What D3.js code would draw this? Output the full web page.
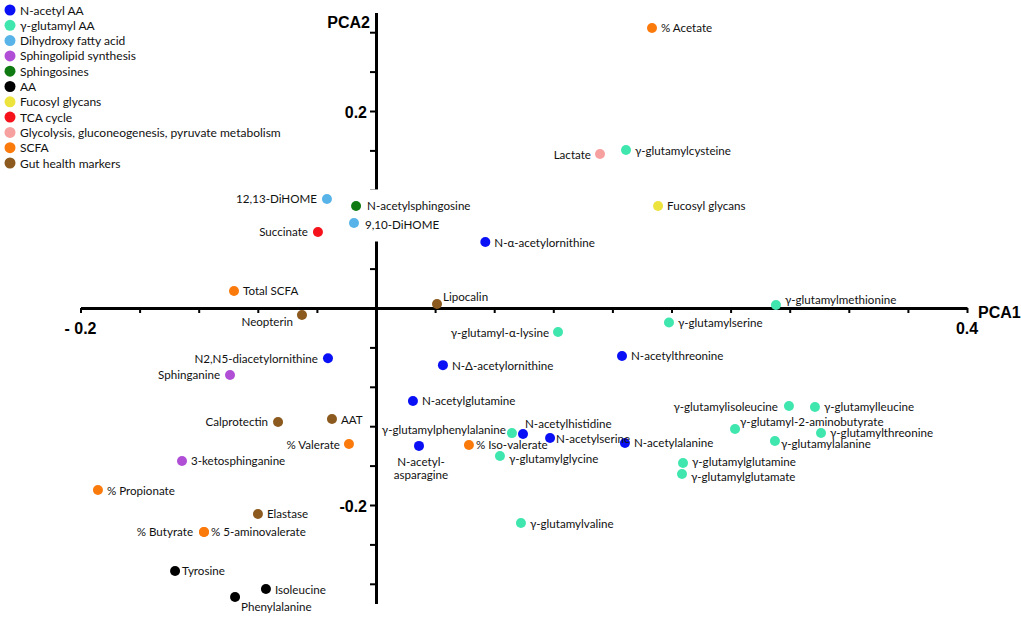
<!DOCTYPE html>
<html>
<head>
<meta charset="utf-8">
<script src="https://cdn.jsdelivr.net/npm/d3@7"></script>
<style>
  html, body { margin: 0; padding: 0; background: #fff; }
  svg { display: block; }
  .lbl { font-family: Lato, "Open Sans", sans-serif; font-size: 11.6px; fill: #111; }
  .leg { font-family: Lato, "Open Sans", sans-serif; font-size: 12px; fill: #111; }
  .ax { font-family: "Liberation Sans", Arial, sans-serif; font-weight: bold; font-size: 16px; fill: #000; }
</style>
</head>
<body>
<svg id="chart" width="1021" height="617"></svg>
<script>
// ---------------- DATA ----------------
const categories = [
  "N-acetyl AA", "γ-glutamyl AA", "Dihydroxy fatty acid", "Sphingolipid synthesis",
  "Sphingosines", "AA", "Fucosyl glycans", "TCA cycle",
  "Glycolysis, gluconeogenesis, pyruvate metabolism", "SCFA", "Gut health markers"
];

// [name, PCA1, PCA2]
const nAcetylAA = [
  ["N-α-acetylornithine", 0.074, 0.067],
  ["N2,N5-diacetylornithine", -0.0325, -0.051],
  ["N-Δ-acetylornithine", 0.0453, -0.058],
  ["N-acetylthreonine", 0.1665, -0.0487],
  ["N-acetylglutamine", 0.025, -0.0944],
  ["N-acetylhistidine", 0.0995, -0.128],
  ["N-acetylserine", 0.1178, -0.132],
  ["N-acetylalanine", 0.1685, -0.137],
  ["N-acetyl-asparagine", 0.0291, -0.140]
];
const gGlutamylAA = [
  ["γ-glutamylcysteine", 0.1692, 0.1604],
  ["γ-glutamylmethionine", 0.2707, 0.003],
  ["γ-glutamylserine", 0.1983, -0.0147],
  ["γ-glutamyl-α-lysine", 0.1232, -0.0244],
  ["γ-glutamylphenylalanine", 0.092, -0.127],
  ["γ-glutamylglycine", 0.0839, -0.1503],
  ["γ-glutamylvaline", 0.0981, -0.2183],
  ["γ-glutamylisoleucine", 0.2795, -0.0995],
  ["γ-glutamylleucine", 0.2971, -0.1005],
  ["γ-glutamyl-2-aminobutyrate", 0.243, -0.1228],
  ["γ-glutamylthreonine", 0.3012, -0.1269],
  ["γ-glutamylalanine", 0.270, -0.135],
  ["γ-glutamylglutamine", 0.2078, -0.1574],
  ["γ-glutamylglutamate", 0.2071, -0.1685]
];
const dihydroxyFA = [
  ["12,13-DiHOME", -0.0332, 0.1107],
  ["9,10-DiHOME", -0.0149, 0.0863]
];
const sphingolipidSynth = [
  ["Sphinganine", -0.0988, -0.068],
  ["3-ketosphinganine", -0.1313, -0.1553]
];
const sphingosines = [
  ["N-acetylsphingosine", -0.0135, 0.1036]
];
const aminoAcids = [
  ["Tyrosine", -0.136, -0.267],
  ["Isoleucine", -0.0745, -0.2853],
  ["Phenylalanine", -0.0954, -0.2934]
];
const fucosylGlycans = [
  ["Fucosyl glycans", 0.1909, 0.1036]
];
const tcaCycle = [
  ["Succinate", -0.0393, 0.0772]
];
const glycolysis = [
  ["Lactate", 0.1516, 0.1563]
];
const scfa = [
  ["% Acetate", 0.1868, 0.2843],
  ["Total SCFA", -0.0961, 0.0173],
  ["% Valerate", -0.0183, -0.1381],
  ["% Iso-valerate", 0.0629, -0.1391],
  ["% Propionate", -0.1882, -0.1848],
  ["% Butyrate", -0.1164, -0.2274],
  ["% 5-aminovalerate", -0.1164, -0.2274]
];
const gutHealth = [
  ["Lipocalin", 0.0413, 0.0041],
  ["Neopterin", -0.0501, -0.0071],
  ["Calprotectin", -0.0663, -0.1157],
  ["AAT", -0.0298, -0.1127],
  ["Elastase", -0.0799, -0.2091]
];
const seriesValues = [nAcetylAA, gGlutamylAA, dihydroxyFA, sphingolipidSynth, sphingosines,
  aminoAcids, fucosylGlycans, tcaCycle, glycolysis, scfa, gutHealth];

const xTickLabels = [[-0.2, "- 0.2"], [0.4, "0.4"]];
const yTickLabels = [[0.2, "0.2"], [-0.2, "-0.2"]];

// ---------------- STYLE / LAYOUT ----------------
const palette = ["#0a10f5", "#3fe6ae", "#58b4e8", "#b04fd6", "#0f7a12", "#000000",
  "#ece33c", "#f5121b", "#f7a0a0", "#fb7a0c", "#8c5a1e"];

// label placement: [dx, dy, anchor]  (dy = offset of text centre)
const labelPos = {
  "Lactate": [-9, 0, "end"],
  "12,13-DiHOME": [-10, 0, "end"],
  "9,10-DiHOME": [11, 2, "start"],
  "N-acetylsphingosine": [11, 0, "start"],
  "Succinate": [-10, 0, "end"],
  "Lipocalin": [6, -7, "start"],
  "Neopterin": [-9, 7, "end"],
  "N2,N5-diacetylornithine": [-10, 0, "end"],
  "γ-glutamylmethionine": [9, -6, "start"],
  "γ-glutamyl-α-lysine": [-9, 0, "end"],
  "γ-glutamylphenylalanine": [-6, -4, "end"],
  "N-acetylhistidine": [2, -11, "start"],
  "N-acetylserine": [6, 0, "start"],
  "N-acetyl-asparagine": [2, 15, "middle"],
  "% Iso-valerate": [7, -1, "start"],
  "γ-glutamylglycine": [9, 2, "start"],
  "γ-glutamylisoleucine": [-11, 0, "end"],
  "γ-glutamyl-2-aminobutyrate": [5, -7, "start"],
  "γ-glutamylalanine": [6, 3, "start"],
  "γ-glutamylglutamine": [9, -2, "start"],
  "γ-glutamylglutamate": [9, 3, "start"],
  "Sphinganine": [-10, 0, "end"],
  "Calprotectin": [-10, 0, "end"],
  "% Valerate": [-9, 0, "end"],
  "% Butyrate": [-11, 0, "end"],
  "% 5-aminovalerate": [7, 0, "start"],
  "Tyrosine": [7, 0, "start"],
  "Phenylalanine": [6, 10, "start"]
};

// ---------------- DRAW ----------------
const svg = d3.select("#chart");
const x = d3.scaleLinear().domain([-0.2, 0.4]).range([80.5, 967]);
const y = d3.scaleLinear().domain([-0.3, 0.3]).range([603.5, 12.5]);

const gY = svg.append("g");
const gBg = svg.append("g");
const gX = svg.append("g");
const gDots = svg.append("g");
const gLbl = svg.append("g");

// y axis
const yAxis = d3.axisLeft(y)
  .tickValues(d3.range(-7, 8).map(i => i * 0.04))
  .tickFormat("")
  .tickSizeInner(6).tickSizeOuter(0);
gY.attr("transform", `translate(${x(0)},0)`).call(yAxis);
gY.select(".domain").attr("stroke", "#000").attr("stroke-width", 3);
gY.selectAll(".tick line").attr("stroke", "#000").attr("stroke-width", 2);

// x axis
const xAxis = d3.axisBottom(x)
  .tickValues(d3.range(-5, 11).map(i => i * 0.04))
  .tickFormat("")
  .tickSizeInner(5).tickSizeOuter(0);
gX.attr("transform", `translate(0,${y(0)})`).call(xAxis);
gX.select(".domain").attr("stroke", "#000").attr("stroke-width", 3);
gX.selectAll(".tick line").attr("stroke", "#000").attr("stroke-width", 2);

// tick labels
svg.selectAll(".xtl").data(xTickLabels).enter().append("text")
  .attr("class", "ax").attr("x", d => x(d[0])).attr("y", y(0) + 20)
  .attr("text-anchor", "middle").attr("dominant-baseline", "central").text(d => d[1]);
svg.selectAll(".ytl").data(yTickLabels).enter().append("text")
  .attr("class", "ax").attr("x", x(0) - 9).attr("y", d => y(d[0]) + 1)
  .attr("text-anchor", "end").attr("dominant-baseline", "central").text(d => d[1]);

// axis titles
svg.append("text").attr("class", "ax").attr("x", 370).attr("y", 22)
  .attr("text-anchor", "end").attr("dominant-baseline", "central").text("PCA2");
svg.append("text").attr("class", "ax").attr("x", 978).attr("y", 312)
  .attr("text-anchor", "start").attr("dominant-baseline", "central").text("PCA1");

// points
const points = [];
seriesValues.forEach((arr, ci) => arr.forEach(d => points.push({name: d[0], px: d[1], py: d[2], c: ci})));

gDots.selectAll("circle").data(points).enter().append("circle")
  .attr("cx", d => x(d.px)).attr("cy", d => y(d.py)).attr("r", 5)
  .attr("fill", d => palette[d.c]);

// labels
points.forEach(d => {
  const p = labelPos[d.name] || [9, 0, "start"];
  const cx = x(d.px) + p[0], cy = y(d.py) + p[1];
  const t = gLbl.append("text").attr("class", "lbl")
    .attr("x", cx).attr("y", cy).attr("text-anchor", p[2])
    .attr("dominant-baseline", "central");
  if (d.name === "N-acetyl-asparagine") {
    t.append("tspan").attr("x", cx).attr("dy", 0).text("N-acetyl-");
    t.append("tspan").attr("x", cx).attr("dy", 13).text("asparagine");
  } else {
    t.text(d.name);
  }
  const b = t.node().getBBox();
  gBg.append("rect").attr("x", b.x - 2).attr("y", b.y - 10)
    .attr("width", b.width + 4).attr("height", b.height + 20).attr("fill", "#fff");
});

// legend
const leg = svg.append("g");
const li = leg.selectAll("g").data(categories).enter().append("g")
  .attr("transform", (d, i) => `translate(0,${10 + i * 15.3})`);
li.append("circle").attr("cx", 10).attr("cy", 0).attr("r", 5.5).attr("fill", (d, i) => palette[i]);
li.append("text").attr("class", "leg").attr("x", 20).attr("y", 0)
  .attr("dominant-baseline", "central").text(d => d);
</script>
</body>
</html>
